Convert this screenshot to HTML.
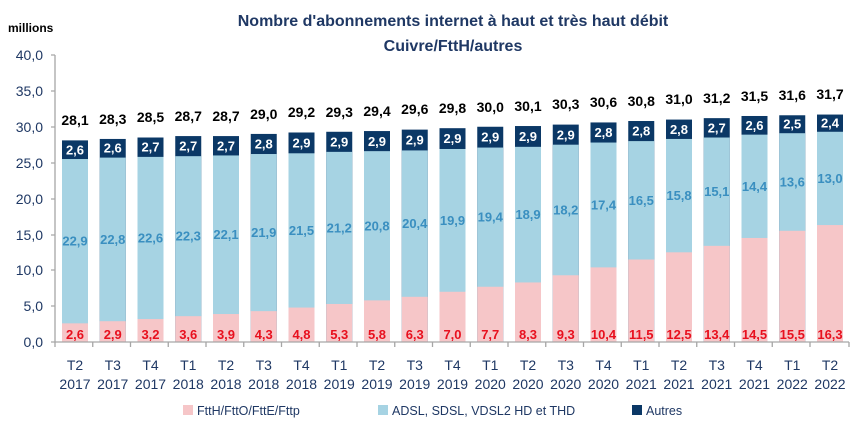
<!DOCTYPE html>
<html><head><meta charset="utf-8"><style>
html,body{margin:0;padding:0;background:#fff;}
svg{display:block;font-family:"Liberation Sans",sans-serif;}
.t{font-weight:bold;font-size:14px;fill:#000;text-anchor:middle}
.r{font-weight:bold;font-size:13px;fill:#e8101e;text-anchor:middle}
.b{font-weight:bold;font-size:13px;fill:#3a8fc0;text-anchor:middle;dominant-baseline:central}
.w{font-weight:bold;font-size:13px;fill:#fff;text-anchor:middle;dominant-baseline:central}
.y{font-size:14px;fill:#1f3864;text-anchor:end;dominant-baseline:central}
.x{font-size:14px;fill:#1f3864;text-anchor:middle}
.l{font-size:12.5px;fill:#1f3864}
</style></head><body>
<svg width="861" height="433" viewBox="0 0 861 433">
<text x="453" y="26" text-anchor="middle" font-weight="bold" font-size="16" fill="#1f3864">Nombre d'abonnements internet à haut et très haut débit</text>
<text x="453" y="51" text-anchor="middle" font-weight="bold" font-size="16" fill="#1f3864">Cuivre/FttH/autres</text>
<text x="8" y="32" font-weight="bold" font-size="12" fill="#000">millions</text>
<g>
<text class="y" x="43" y="55">40,0</text><text class="y" x="43" y="91">35,0</text><text class="y" x="43" y="127">30,0</text><text class="y" x="43" y="163">25,0</text><text class="y" x="43" y="199">20,0</text><text class="y" x="43" y="235">15,0</text><text class="y" x="43" y="270">10,0</text><text class="y" x="43" y="306">5,0</text><text class="y" x="43" y="342">0,0</text>
</g>
<g transform="matrix(1,0,0,-7.175,0,342)">
<g fill="#0b3866">
<rect x="62" width="26" height="28.1"/><rect x="99.75" width="26" height="28.3"/><rect x="137.5" width="26" height="28.5"/><rect x="175.25" width="26" height="28.7"/><rect x="213" width="26" height="28.7"/><rect x="250.75" width="26" height="29.0"/><rect x="288.5" width="26" height="29.2"/><rect x="326.25" width="26" height="29.3"/><rect x="364" width="26" height="29.4"/><rect x="401.75" width="26" height="29.6"/><rect x="439.5" width="26" height="29.8"/><rect x="477.25" width="26" height="30.0"/><rect x="515" width="26" height="30.1"/><rect x="552.75" width="26" height="30.3"/><rect x="590.5" width="26" height="30.6"/><rect x="628.25" width="26" height="30.8"/><rect x="666" width="26" height="31.0"/><rect x="703.75" width="26" height="31.2"/><rect x="741.5" width="26" height="31.5"/><rect x="779.25" width="26" height="31.6"/><rect x="817" width="26" height="31.7"/>
</g>
<g fill="#a6d3e3">
<rect x="62" width="26" height="25.5"/><rect x="99.75" width="26" height="25.7"/><rect x="137.5" width="26" height="25.8"/><rect x="175.25" width="26" height="25.9"/><rect x="213" width="26" height="26.0"/><rect x="250.75" width="26" height="26.2"/><rect x="288.5" width="26" height="26.3"/><rect x="326.25" width="26" height="26.5"/><rect x="364" width="26" height="26.6"/><rect x="401.75" width="26" height="26.7"/><rect x="439.5" width="26" height="26.9"/><rect x="477.25" width="26" height="27.1"/><rect x="515" width="26" height="27.2"/><rect x="552.75" width="26" height="27.5"/><rect x="590.5" width="26" height="27.8"/><rect x="628.25" width="26" height="28.0"/><rect x="666" width="26" height="28.3"/><rect x="703.75" width="26" height="28.5"/><rect x="741.5" width="26" height="28.9"/><rect x="779.25" width="26" height="29.1"/><rect x="817" width="26" height="29.3"/>
</g>
<g fill="#f6c6c8">
<rect x="62" width="26" height="2.6"/><rect x="99.75" width="26" height="2.9"/><rect x="137.5" width="26" height="3.2"/><rect x="175.25" width="26" height="3.6"/><rect x="213" width="26" height="3.9"/><rect x="250.75" width="26" height="4.3"/><rect x="288.5" width="26" height="4.8"/><rect x="326.25" width="26" height="5.3"/><rect x="364" width="26" height="5.8"/><rect x="401.75" width="26" height="6.3"/><rect x="439.5" width="26" height="7.0"/><rect x="477.25" width="26" height="7.7"/><rect x="515" width="26" height="8.3"/><rect x="552.75" width="26" height="9.3"/><rect x="590.5" width="26" height="10.4"/><rect x="628.25" width="26" height="11.5"/><rect x="666" width="26" height="12.5"/><rect x="703.75" width="26" height="13.4"/><rect x="741.5" width="26" height="14.5"/><rect x="779.25" width="26" height="15.5"/><rect x="817" width="26" height="16.3"/>
</g>
</g>
<g stroke="#a6a6a6" stroke-width="1.3" fill="none">
<path d="M55,55V342H849"/>
<path d="M51,55H55M51,91H55M51,127H55M51,163H55M51,199H55M51,235H55M51,270H55M51,306H55M51,342H55"/>
<path d="M55,342v5M92.75,342v5M130.5,342v5M168.25,342v5M206,342v5M243.75,342v5M281.5,342v5M319.25,342v5M357,342v5M394.75,342v5M432.5,342v5M470.25,342v5M508,342v5M545.75,342v5M583.5,342v5M621.25,342v5M659,342v5M696.75,342v5M734.5,342v5M772.25,342v5M810,342v5M849,342v5"/>
</g>
<g>
<text class="t" x="75" y="125">28,1</text><text class="t" x="112.75" y="124">28,3</text><text class="t" x="150.5" y="122">28,5</text><text class="t" x="188.25" y="121">28,7</text><text class="t" x="226" y="121">28,7</text><text class="t" x="263.75" y="119">29,0</text><text class="t" x="301.5" y="117">29,2</text><text class="t" x="339.25" y="117">29,3</text><text class="t" x="377" y="116">29,4</text><text class="t" x="414.75" y="114">29,6</text><text class="t" x="452.5" y="113">29,8</text><text class="t" x="490.25" y="112">30,0</text><text class="t" x="528" y="111">30,1</text><text class="t" x="565.75" y="109">30,3</text><text class="t" x="603.5" y="107">30,6</text><text class="t" x="641.25" y="106">30,8</text><text class="t" x="679" y="104">31,0</text><text class="t" x="716.75" y="103">31,2</text><text class="t" x="754.5" y="101">31,5</text><text class="t" x="792.25" y="100">31,6</text><text class="t" x="830" y="99">31,7</text>
</g>
<g>
<text class="w" x="75" y="150">2,6</text><text class="w" x="112.75" y="148">2,6</text><text class="w" x="150.5" y="147">2,7</text><text class="w" x="188.25" y="146">2,7</text><text class="w" x="226" y="146">2,7</text><text class="w" x="263.75" y="144">2,8</text><text class="w" x="301.5" y="143">2,9</text><text class="w" x="339.25" y="142">2,9</text><text class="w" x="377" y="141.5">2,9</text><text class="w" x="414.75" y="140">2,9</text><text class="w" x="452.5" y="138.5">2,9</text><text class="w" x="490.25" y="137">2,9</text><text class="w" x="528" y="136.5">2,9</text><text class="w" x="565.75" y="135">2,9</text><text class="w" x="603.5" y="132.5">2,8</text><text class="w" x="641.25" y="131">2,8</text><text class="w" x="679" y="129.5">2,8</text><text class="w" x="716.75" y="128">2,7</text><text class="w" x="754.5" y="125.5">2,6</text><text class="w" x="792.25" y="124">2,5</text><text class="w" x="830" y="123">2,4</text>
</g>
<g>
<text class="b" x="75" y="241">22,9</text><text class="b" x="112.75" y="239.5">22,8</text><text class="b" x="150.5" y="238">22,6</text><text class="b" x="188.25" y="236">22,3</text><text class="b" x="226" y="234.5">22,1</text><text class="b" x="263.75" y="232.5">21,9</text><text class="b" x="301.5" y="230.5">21,5</text><text class="b" x="339.25" y="228">21,2</text><text class="b" x="377" y="226">20,8</text><text class="b" x="414.75" y="223.5">20,4</text><text class="b" x="452.5" y="220.5">19,9</text><text class="b" x="490.25" y="217">19,4</text><text class="b" x="528" y="214.5">18,9</text><text class="b" x="565.75" y="210">18,2</text><text class="b" x="603.5" y="205">17,4</text><text class="b" x="641.25" y="200.5">16,5</text><text class="b" x="679" y="195.5">15,8</text><text class="b" x="716.75" y="191.5">15,1</text><text class="b" x="754.5" y="186.5">14,4</text><text class="b" x="792.25" y="182">13,6</text><text class="b" x="830" y="178.5">13,0</text>
</g>
<g>
<text class="r" x="75" y="339">2,6</text><text class="r" x="112.75" y="339">2,9</text><text class="r" x="150.5" y="339">3,2</text><text class="r" x="188.25" y="339">3,6</text><text class="r" x="226" y="339">3,9</text><text class="r" x="263.75" y="339">4,3</text><text class="r" x="301.5" y="339">4,8</text><text class="r" x="339.25" y="339">5,3</text><text class="r" x="377" y="339">5,8</text><text class="r" x="414.75" y="339">6,3</text><text class="r" x="452.5" y="339">7,0</text><text class="r" x="490.25" y="339">7,7</text><text class="r" x="528" y="339">8,3</text><text class="r" x="565.75" y="339">9,3</text><text class="r" x="603.5" y="339">10,4</text><text class="r" x="641.25" y="339">11,5</text><text class="r" x="679" y="339">12,5</text><text class="r" x="716.75" y="339">13,4</text><text class="r" x="754.5" y="339">14,5</text><text class="r" x="792.25" y="339">15,5</text><text class="r" x="830" y="339">16,3</text>
</g>
<g>
<text class="x" x="75" y="370">T2</text><text class="x" x="112.75" y="370">T3</text><text class="x" x="150.5" y="370">T4</text><text class="x" x="188.25" y="370">T1</text><text class="x" x="226" y="370">T2</text><text class="x" x="263.75" y="370">T3</text><text class="x" x="301.5" y="370">T4</text><text class="x" x="339.25" y="370">T1</text><text class="x" x="377" y="370">T2</text><text class="x" x="414.75" y="370">T3</text><text class="x" x="452.5" y="370">T4</text><text class="x" x="490.25" y="370">T1</text><text class="x" x="528" y="370">T2</text><text class="x" x="565.75" y="370">T3</text><text class="x" x="603.5" y="370">T4</text><text class="x" x="641.25" y="370">T1</text><text class="x" x="679" y="370">T2</text><text class="x" x="716.75" y="370">T3</text><text class="x" x="754.5" y="370">T4</text><text class="x" x="792.25" y="370">T1</text><text class="x" x="830" y="370">T2</text>
<text class="x" x="75" y="389">2017</text><text class="x" x="112.75" y="389">2017</text><text class="x" x="150.5" y="389">2017</text><text class="x" x="188.25" y="389">2018</text><text class="x" x="226" y="389">2018</text><text class="x" x="263.75" y="389">2018</text><text class="x" x="301.5" y="389">2018</text><text class="x" x="339.25" y="389">2019</text><text class="x" x="377" y="389">2019</text><text class="x" x="414.75" y="389">2019</text><text class="x" x="452.5" y="389">2019</text><text class="x" x="490.25" y="389">2020</text><text class="x" x="528" y="389">2020</text><text class="x" x="565.75" y="389">2020</text><text class="x" x="603.5" y="389">2020</text><text class="x" x="641.25" y="389">2021</text><text class="x" x="679" y="389">2021</text><text class="x" x="716.75" y="389">2021</text><text class="x" x="754.5" y="389">2021</text><text class="x" x="792.25" y="389">2022</text><text class="x" x="830" y="389">2022</text>
</g>
<rect x="183" y="405" width="10" height="10" fill="#f6c6c8"/><text class="l" x="197" y="415">FttH/FttO/FttE/Fttp</text>
<rect x="378" y="405" width="10" height="10" fill="#a6d3e3"/><text class="l" x="392" y="415">ADSL, SDSL, VDSL2 HD et THD</text>
<rect x="632" y="405" width="10" height="10" fill="#0b3866"/><text class="l" x="646" y="415">Autres</text>
</svg>
</body></html>
